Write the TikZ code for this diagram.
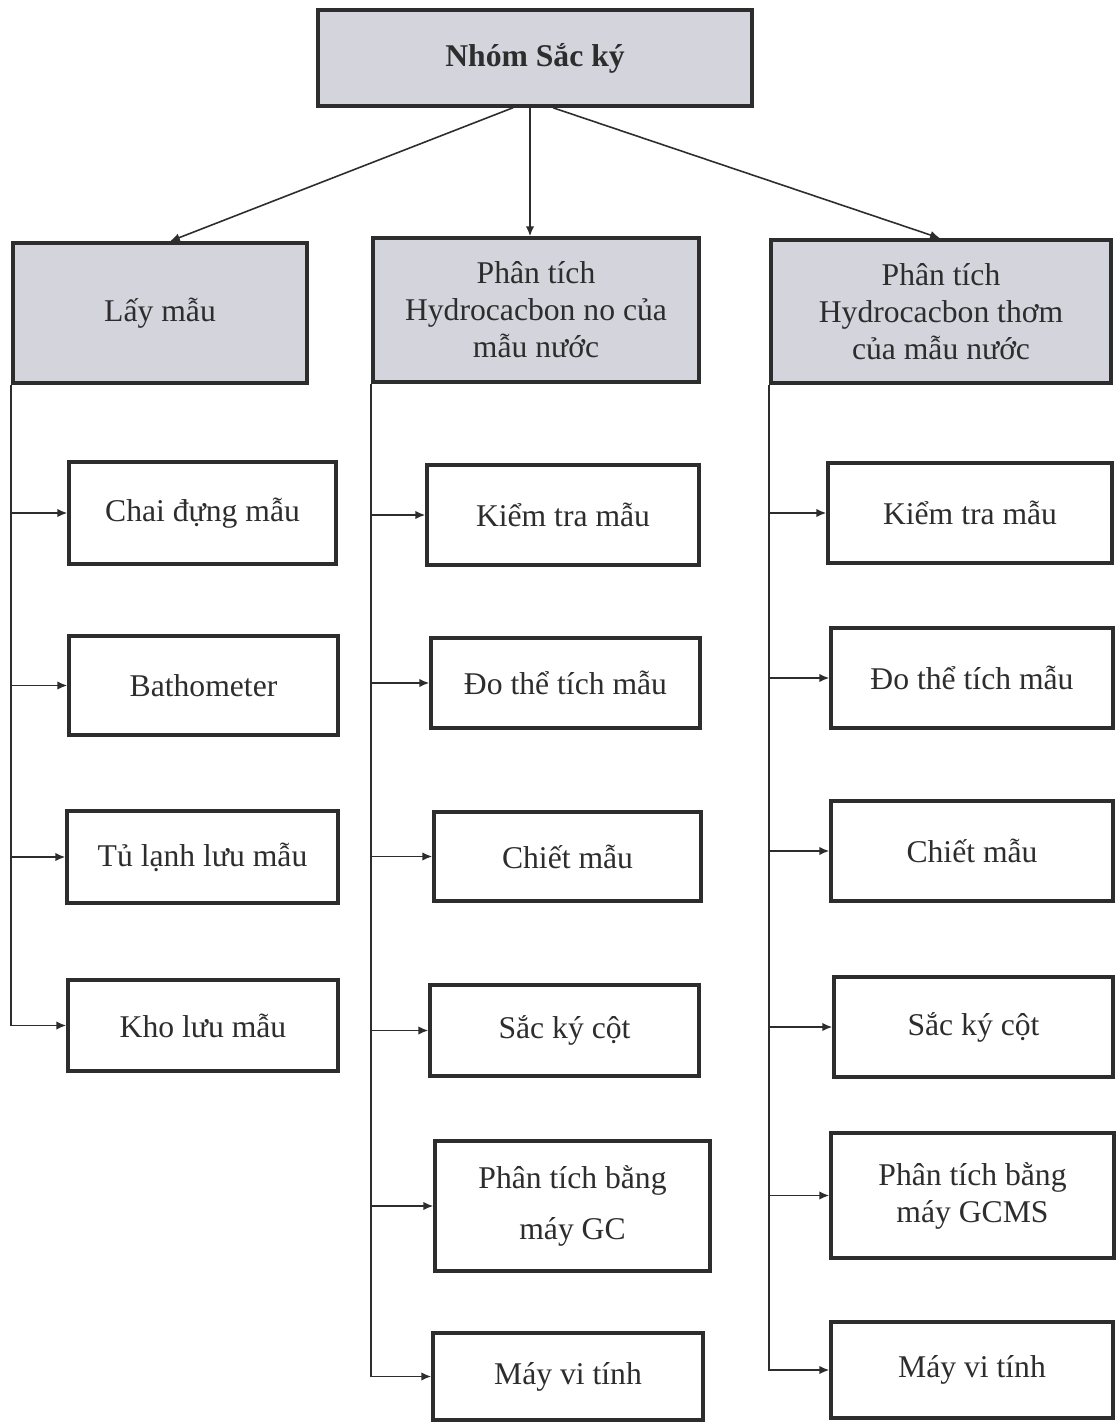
\documentclass[tikz,border=0pt]{standalone}
\usepackage{fontspec}
\setmainfont{Liberation Serif}
\usetikzlibrary{calc,arrows.meta}
\definecolor{headfill}{RGB}{212,212,220}
\definecolor{ink}{RGB}{45,45,45}
\begin{document}
\begin{tikzpicture}[x=0.01cm,y=-0.01cm,
  box/.style={draw=ink,line width=1pt,rectangle,inner sep=0pt,align=center,
    text=ink,font=\fontsize{9}{10.5}\selectfont},
  headbox/.style={box,fill=headfill},
  sz/.style 2 args={minimum width=#1*0.01cm,minimum height=#2*0.01cm},
  conn/.style={draw=ink,line width=0.45pt,-{Latex[length=2.8pt,width=2.4pt]}}]
\useasboundingbox (0,0) rectangle (1117,1422);
\fill[white] (0,0) rectangle (1117,1422);

% top of the hierarchy
\node[headbox,sz={434}{96},font=\fontsize{9}{10.5}\selectfont\bfseries]
  (top) at (535,58) {Nhóm Sắc ký};

% three branches
\node[headbox,sz={294}{140}] (L1) at (160,313) {Lấy mẫu};
\node[headbox,sz={326}{144}] (L2) at (536,310)
  {Phân tích\\Hydrocacbon no của\\mẫu nước};
\node[headbox,sz={340}{143}] (L3) at (941,311.5)
  {Phân tích\\Hydrocacbon thơm\\của mẫu nước};

% sampling
\node[box,sz={267}{102}] (c11) at (202.5,513) {Chai đựng mẫu};
\node[box,sz={269}{99}]  (c12) at (203.5,685.5) {Bathometer};
\node[box,sz={271}{92}]  (c13) at (202.5,857) {Tủ lạnh lưu mẫu};
\node[box,sz={270}{91}]  (c14) at (203,1025.5) {Kho lưu mẫu};

% saturated hydrocarbons
\node[box,sz={272}{100}] (c21) at (563,515) {Kiểm tra mẫu};
\node[box,sz={269}{90}]  (c22) at (565.5,683) {Đo thể tích mẫu};
\node[box,sz={267}{89}]  (c23) at (567.5,856.5) {Chiết mẫu};
\node[box,sz={269}{91}]  (c24) at (564.5,1030.5) {Sắc ký cột};
\node[box,sz={275}{130}] (c25) at (572.5,1206)
  {Phân tích bằng\\[4pt]máy GC};
\node[box,sz={270}{87}]  (c26) at (568,1376.5) {Máy vi tính};

% aromatic hydrocarbons
\node[box,sz={284}{100}] (c31) at (970,513) {Kiểm tra mẫu};
\node[box,sz={282}{100}] (c32) at (972,678) {Đo thể tích mẫu};
\node[box,sz={282}{100}] (c33) at (972,851) {Chiết mẫu};
\node[box,sz={279}{100}] (c34) at (973.5,1027) {Sắc ký cột};
\node[box,sz={283}{125}] (c35) at (972.5,1195.5)
  {Phân tích bằng\\máy GCMS};
\node[box,sz={282}{96}]  (c36) at (972,1370) {Máy vi tính};

% links from the top box
\coordinate (t1) at ($(top.south)+(-22,0)$);
\coordinate (t2) at ($(top.south)+(-5,0)$);
\coordinate (t3) at ($(top.south)+(18,0)$);
\coordinate (h1) at ($(L1.north)+(10,0)$);
\coordinate (h2) at ($(L2.north)+(-6,0)$);
\coordinate (h3) at ($(L3.north)+(-1,0)$);
\draw[conn] (t1) -- (h1);
\draw[conn] (t2) -- (h2);
\draw[conn] (t3) -- (h3);

% trunk-and-branch links
\foreach \p/\c in {L1/c11,L1/c12,L1/c13,L1/c14,
                   L2/c21,L2/c22,L2/c23,L2/c24,L2/c25,L2/c26,
                   L3/c31,L3/c32,L3/c33,L3/c34,L3/c35,L3/c36}
  \draw[conn] (\p.south west) |- (\c.west);
\end{tikzpicture}
\end{document}
